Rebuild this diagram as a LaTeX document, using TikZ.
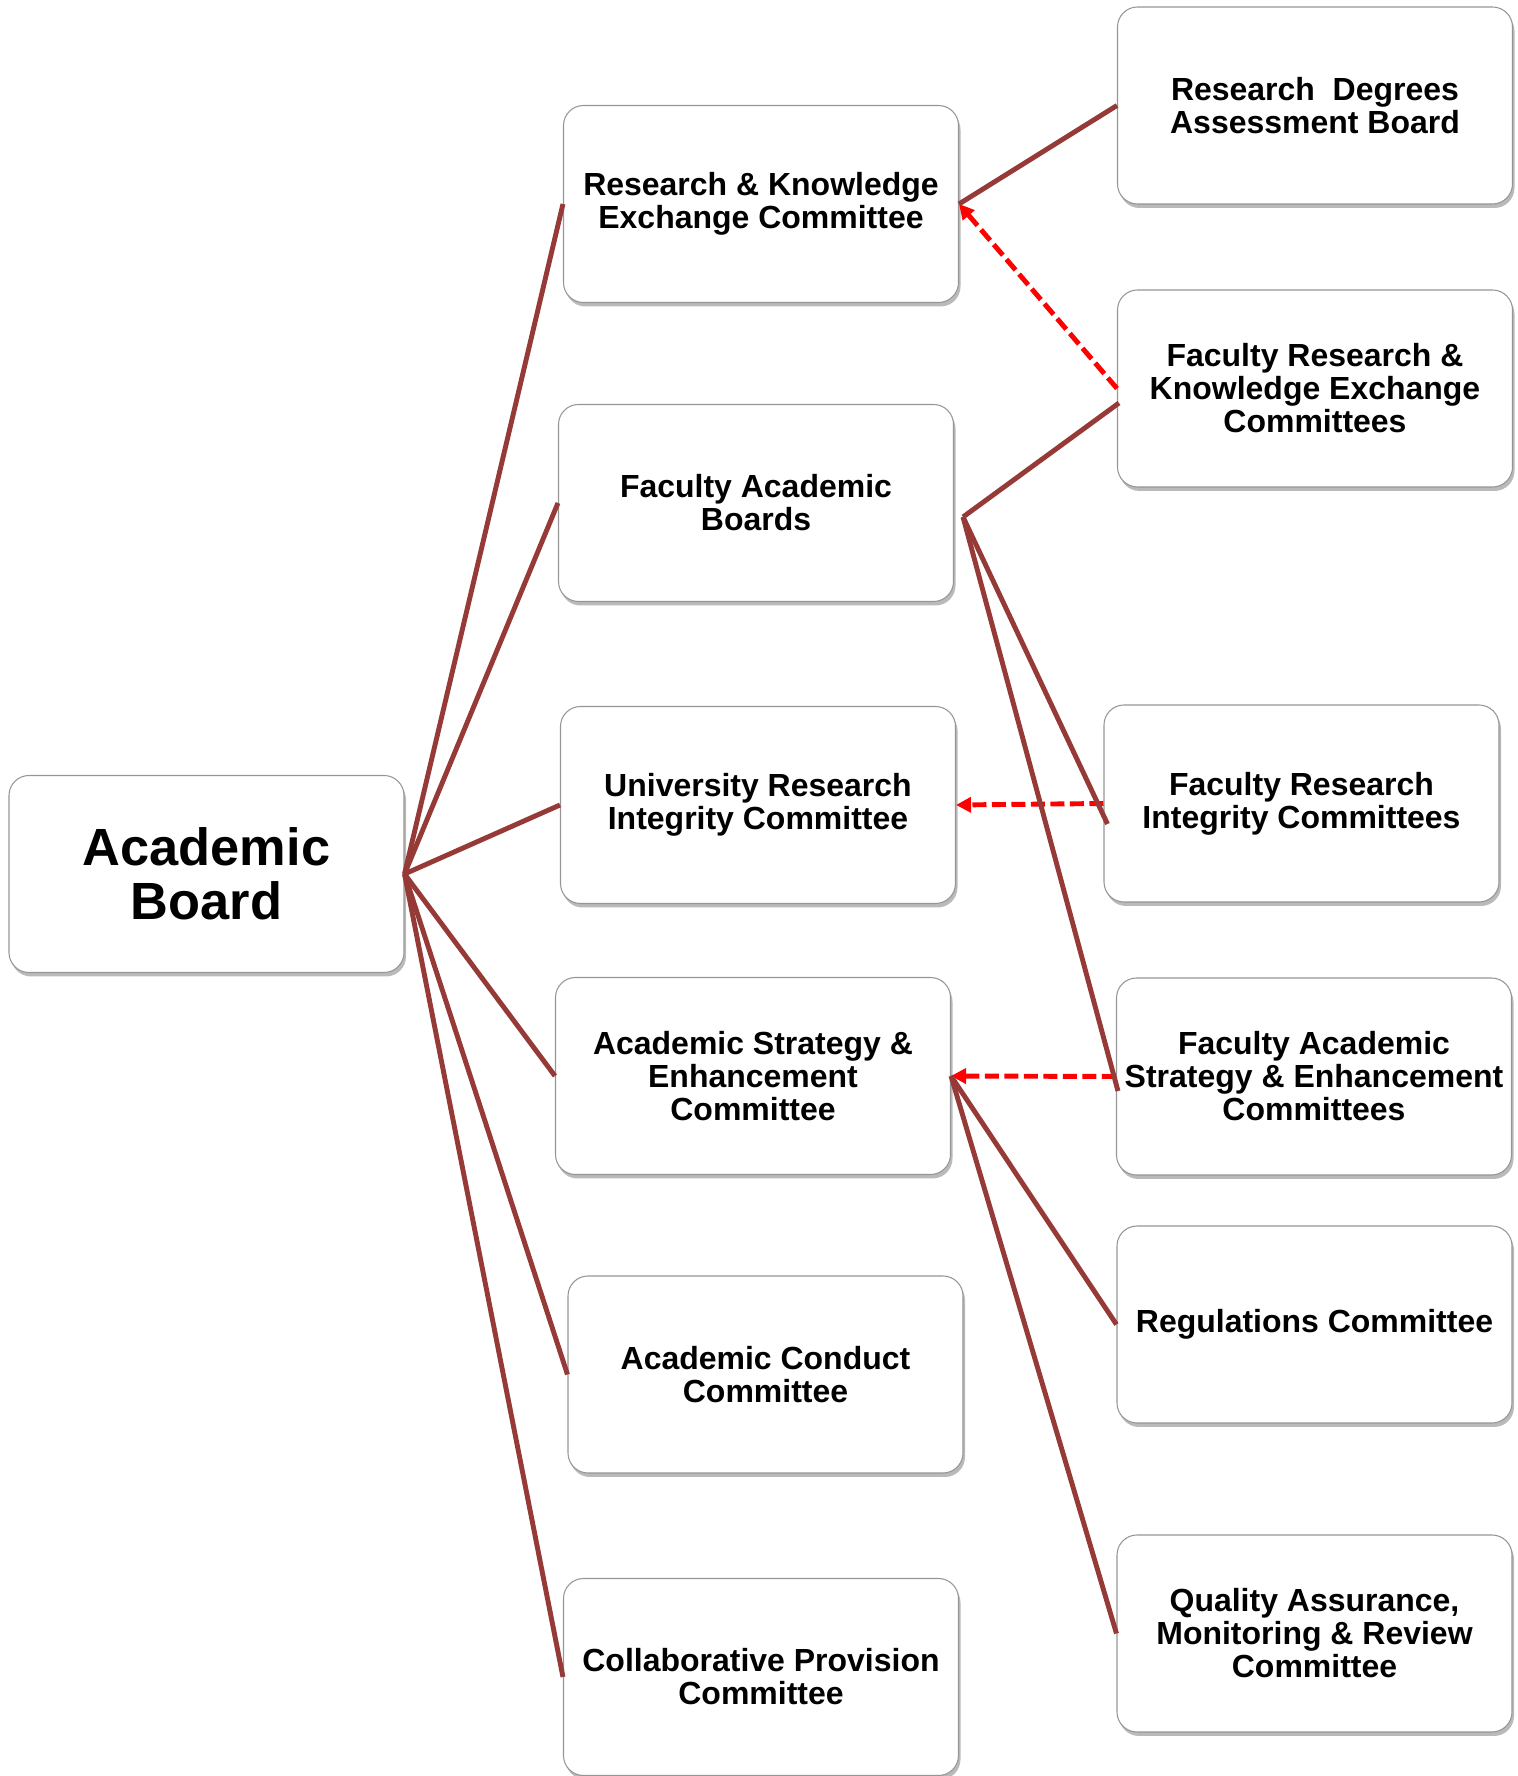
\documentclass[tikz,border=0pt]{standalone}
\usepackage{fontspec}
\setmainfont{Liberation Sans}
\usepackage{tikz}
\usetikzlibrary{positioning}
\usetikzlibrary{arrows.meta}
\usetikzlibrary{shadows}

\definecolor{linkred}{RGB}{150,58,56}
\definecolor{boxgray}{RGB}{150,150,150}

\begin{document}
\begin{tikzpicture}[
  box/.style={draw=boxgray, line width=0.6pt, fill=white, rounded corners=0.4cm,
    minimum width=7.9cm, minimum height=3.94cm, inner sep=0pt, align=center,
    font=\bfseries\fontsize{18.2}{18.8}\selectfont,
    drop shadow={shadow xshift=0.04cm, shadow yshift=-0.08cm, opacity=0.45, fill=black!60}},
  link/.style={draw=linkred, line width=2.8pt},
  report/.style={-{Triangle[length=0.3cm, width=0.3cm]}, draw=red, line width=2.8pt,
    dash pattern=on 0.28cm off 0.11cm},
]
  \useasboundingbox (0,0) rectangle (30.36,35.52);
  % nodes %
  \node[box, font=\bfseries\fontsize{29.8}{30.6}\selectfont] (ab) at (4.13,18.04) {Academic\\Board};
  \node[box] (rkec) at (15.22,31.44) {Research \& Knowledge\\Exchange Committee};
  \node[box] (fab) at (15.12,25.46) {Faculty Academic\\Boards};
  \node[box] (uric) at (15.16,19.42) {University Research\\Integrity Committee};
  \node[box] (asec) at (15.06,14.00) {Academic Strategy \&\\Enhancement\\Committee};
  \node[box] (acc) at (15.31,8.03) {Academic Conduct\\Committee};
  \node[box] (cpc) at (15.22,1.98) {Collaborative Provision\\Committee};
  \node[box] (rdab) at (26.30,33.41) {Research\ \ Degrees\\Assessment Board};
  \node[box] (frkec) at (26.30,27.75) {Faculty Research \&\\Knowledge Exchange\\Committees};
  \node[box] (fric) at (26.03,19.45) {Faculty Research\\Integrity Committees};
  \node[box] (fasec) at (26.28,13.99) {Faculty Academic\\Strategy \& Enhancement\\Committees};
  \node[box] (rc) at (26.29,9.03) {Regulations Committee};
  \node[box] (qamrc) at (26.29,2.85) {Quality Assurance,\\Monitoring \& Review\\Committee};
  \coordinate (fabout) at ([shift={(0.18,-0.28)}]fab.east);
  % reporting arrows %
  \draw[report] (frkec.west) -- (rkec.east);
  \draw[report] (fric.west) -- (uric.east);
  \draw[report] (fasec.west) -- (asec.east);
  % edges %
  \draw[link] (ab.east) -- (rkec.west);
  \draw[link] (ab.east) -- (fab.west);
  \draw[link] (ab.east) -- (uric.west);
  \draw[link] (ab.east) -- (asec.west);
  \draw[link] (ab.east) -- (acc.west);
  \draw[link] (ab.east) -- (cpc.west);
  \draw[link] (rkec.east) -- (rdab.west);
  \draw[link] (fabout) -- ([shift={(0.04,-0.29)}]frkec.west);
  \draw[link] (fabout) -- ([shift={(0.08,-0.41)}]fric.west);
  \draw[link] (fabout) -- ([shift={(0.04,-0.29)}]fasec.west);
  \draw[link] (asec.east) -- (rc.west);
  \draw[link] (asec.east) -- (qamrc.west);
\end{tikzpicture}
\end{document}
